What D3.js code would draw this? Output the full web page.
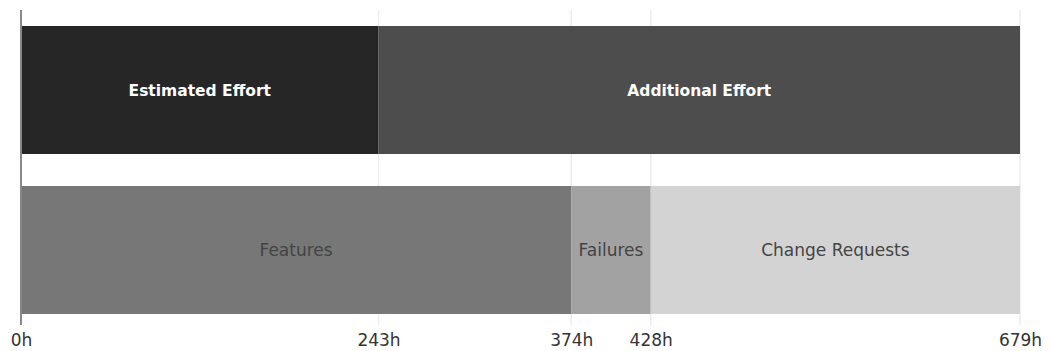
<!DOCTYPE html>
<html>
<head>
<meta charset="utf-8">
<script src="https://cdn.jsdelivr.net/npm/d3@7"></script>
<style>
  html, body { margin: 0; padding: 0; background: #fff; }
  svg text { font-family: "DejaVu Sans", Verdana, sans-serif; }
</style>
</head>
<body>
<svg id="chart" width="1051" height="351"></svg>
<script>
// Effort breakdown: planned vs. actual, in hours
const rows = ["effort", "work"];
const effortNames = ["Estimated Effort", "Additional Effort"];
const effortHours = [243, 436];
const workNames = ["Features", "Failures", "Change Requests"];
const workHours = [374, 54, 251];
const tickValues = [0, 243, 374, 428, 679];

const effortFill = ["#262626", "#4d4d4d"];
const effortText = ["#ffffff", "#ffffff"];
const workFill = ["#777777", "#a2a2a2", "#d3d3d3"];
const workText = ["#444444", "#444444", "#444444"];

const svg = d3.select("#chart");
const margin = { left: 21, right: 31, top: 10, bottom: 26 };
const width = 1051 - margin.left - margin.right;
const height = 351 - margin.top - margin.bottom;

const x = d3.scaleLinear().domain([0, 679]).range([0, width]);
const y = d3.scaleBand().domain(rows).range([16, 304]).paddingInner(0.2);

const g = svg.append("g").attr("transform", `translate(${margin.left},${margin.top})`);

// vertical grid at tick positions
g.append("g").selectAll("line")
  .data(tickValues.slice(1))
  .join("line")
  .attr("x1", d => x(d)).attr("x2", d => x(d))
  .attr("y1", 0).attr("y2", height)
  .attr("stroke", "#ececec").attr("stroke-width", 1.5);

function stack(names, hours) {
  let acc = 0;
  return names.map((n, i) => {
    const s = { name: n, x0: acc, x1: acc + hours[i], i };
    acc += hours[i];
    return s;
  });
}

function drawRow(key, segs, fills, textCols, bold) {
  const row = g.append("g");
  row.selectAll("rect").data(segs).join("rect")
    .attr("x", d => x(d.x0))
    .attr("width", d => x(d.x1) - x(d.x0))
    .attr("y", y(key))
    .attr("height", y.bandwidth())
    .attr("fill", d => fills[d.i]);
  row.selectAll("text").data(segs).join("text")
    .attr("x", d => (x(d.x0) + x(d.x1)) / 2)
    .attr("y", y(key) + y.bandwidth() / 2)
    .attr("dy", "0.38em")
    .attr("text-anchor", "middle")
    .attr("font-size", bold ? 15.5 : 17)
    .attr("font-weight", bold ? "bold" : "normal")
    .attr("fill", d => textCols[d.i])
    .text(d => d.name);
}

drawRow("effort", stack(effortNames, effortHours), effortFill, effortText, true);
drawRow("work", stack(workNames, workHours), workFill, workText, false);

// left baseline
g.append("line")
  .attr("x1", 0).attr("x2", 0).attr("y1", 0).attr("y2", height)
  .attr("stroke", "#888").attr("stroke-width", 2);

// bottom axis labels
const axis = d3.axisBottom(x).tickValues(tickValues).tickSize(0).tickFormat(d => d + "h");
const ax = g.append("g").attr("transform", `translate(0,${height})`).call(axis);
ax.select(".domain").remove();
ax.selectAll("text")
  .attr("font-size", 17)
  .attr("fill", "#333")
  .attr("dy", "1.05em")
  .style("font-family", "'DejaVu Sans', Verdana, sans-serif");
</script>
</body>
</html>
